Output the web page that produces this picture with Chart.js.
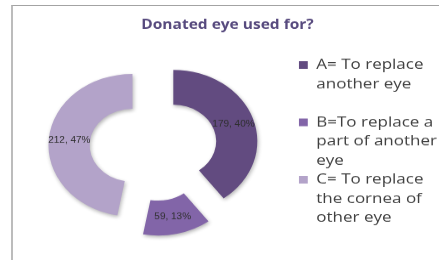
<!DOCTYPE html>
<html><head><meta charset="utf-8">
<script src="https://cdn.jsdelivr.net/npm/chart.js"></script>
<style>
html,body{margin:0;padding:0;background:#fff;overflow:hidden;width:439px;height:260px;position:relative;}
#frame{position:absolute;left:11px;top:5px;width:440px;height:270px;border-left:2px solid #bcbcbc;border-top:1px solid #a3a3a3;}
#c{position:absolute;left:0;top:0;}
</style></head><body>
<div id="frame"></div>
<canvas id="c" width="447" height="306" style="width:447px;height:260px;"></canvas>
<script>
const chartTitle = 'Donated eye used for?';
const categories = [
  ['A= To replace', 'another eye', ''],
  ['B=To replace a', 'part of another', 'eye'],
  ['C= To replace', 'the cornea of', 'other eye']
];
const counts = [179, 59, 212];
const colors = ['#624b80', '#8265a8', '#b3a3c9'];

const total = counts.reduce((a, b) => a + b, 0);
const EXPLODE = 21;

const sliceDecor = {
  id: 'sliceDecor',
  afterDatasetsUpdate(chart) {
    // explode each slice outward along its mid-angle
    chart.getDatasetMeta(0).data.forEach(arc => {
      const h = (arc.startAngle + arc.endAngle) / 2;
      arc.x += Math.cos(h) * EXPLODE;
      arc.y += Math.sin(h) * EXPLODE;
    });
  },
  beforeDatasetsDraw(chart) {
    const ctx = chart.ctx;
    ctx.save();
    ctx.shadowColor = 'rgba(0,0,0,0.3)';
    ctx.shadowBlur = 4;
    ctx.shadowOffsetX = 1;
    ctx.shadowOffsetY = 2;
  },
  afterDatasetsDraw(chart) {
    const ctx = chart.ctx;
    ctx.restore();
    const meta = chart.getDatasetMeta(0);
    ctx.save();
    ctx.font = '10px "Liberation Sans"';
    ctx.fillStyle = '#2f2f2f';
    ctx.textAlign = 'center';
    ctx.textBaseline = 'middle';
    meta.data.forEach((arc, i) => {
      const h = (arc.startAngle + arc.endAngle) / 2;
      const r = (arc.innerRadius + arc.outerRadius) / 2;
      const txt = counts[i] + ', ' + Math.round(counts[i] / total * 100) + '%';
      ctx.fillText(txt, arc.x + Math.cos(h) * r, arc.y + Math.sin(h) * r);
    });
    ctx.restore();
  }
};

new Chart(document.getElementById('c'), {
  type: 'doughnut',
  data: {
    labels: categories,
    datasets: [{
      data: counts,
      backgroundColor: colors,
      borderWidth: 0,
      radius: 84,
      cutout: '51%'
    }]
  },
  options: {
    responsive: false,
    animation: false,
    devicePixelRatio: 1,
    events: [],
    layout: { padding: { left: 8, right: 0, top: 0, bottom: 28.3 } },
    plugins: {
      title: {
        display: true, text: chartTitle, color: '#574a7e',
        font: { family: 'Open Sans', size: 15.5, weight: 'bold', lineHeight: 1.2 },
        padding: { top: 20, bottom: 29.3 }
      },
      legend: {
        position: 'right', align: 'start', fullSize: false,
        labels: {
          boxWidth: 9, boxHeight: 9, padding: 0, color: '#404040',
          font: { family: 'Open Sans', size: 17, lineHeight: 1.3235 }
        }
      },
      tooltip: { enabled: false }
    }
  },
  plugins: [sliceDecor]
});
</script>
</body></html>
